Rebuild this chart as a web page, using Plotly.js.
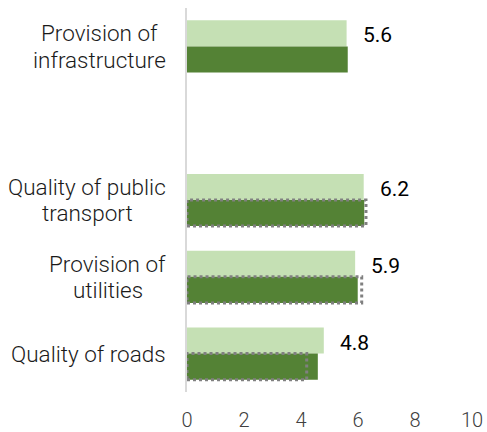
<!DOCTYPE html>
<html>
<head>
<meta charset="utf-8">
<script src="https://cdn.plot.ly/plotly-3.0.1.min.js"></script>
<style>
  html, body { margin: 0; padding: 0; background: #ffffff; }
  #chart { width: 487px; height: 432px; }
</style>
</head>
<body>
<div id="chart"></div>
<script>
// ---- data ----
const categories = ["Provision of<br>infrastructure", "Quality of public<br>transport", "Provision of<br>utilities", "Quality of roads"];
const lightValues = [5.6, 6.2, 5.9, 4.8];
const darkValues = [5.64, 6.22, 5.99, 4.59];
const dottedValues = [null, 6.28, 6.13, 4.2];
const valueLabels = ["5.6", "6.2", "5.9", "4.8"];
const xTicks = [0, 2, 4, 6, 8, 10];

// ---- layout structure: slot index per category (a blank slot after the first) ----
const slots = [4, 2, 1, 0];
const barH = 0.34;
const lineGap = 26.5;

const traces = [
  {
    type: "bar", orientation: "h",
    x: lightValues, y: slots,
    width: barH, offset: 0,
    marker: { color: "#c5e0b4" },
    hoverinfo: "skip", showlegend: false
  },
  {
    type: "bar", orientation: "h",
    x: darkValues, y: slots,
    width: barH, offset: -barH,
    marker: { color: "#548235" },
    hoverinfo: "skip", showlegend: false
  }
];

// dotted outline boxes drawn as closed lines through the axes
dottedValues.forEach((v, i) => {
  if (v === null) return;
  const c = slots[i];
  traces.push({
    type: "scatter", mode: "lines",
    x: [0, v, v, 0, 0],
    y: [c - barH, c - barH, c, c, c - barH],
    line: { color: "#808080", width: 3, dash: "dot" },
    hoverinfo: "skip", showlegend: false, cliponaxis: false
  });
});

const annotations = [];
categories.forEach((cat, i) => {
  const lines = cat.split("<br>");
  lines.forEach((ln, k) => {
    annotations.push({
      xref: "paper", yref: "y", x: 0, y: slots[i],
      xanchor: "center", yanchor: "middle",
      xshift: 0, yshift: ((lines.length - 1) / 2 - k) * lineGap,
      showarrow: false,
      text: ln,
      font: { family: "Roboto", size: 22.5, color: "#1a1a1a", weight: 300 },
      _lineGroup: i
    });
  });
  annotations.push({
    xref: "x", yref: "y", x: lightValues[i], y: slots[i] + barH / 2,
    xanchor: "left", yanchor: "middle",
    xshift: 14, yshift: -2, showarrow: false,
    text: valueLabels[i],
    font: { family: "Roboto", size: 21, color: "#000000" }
  });
});

// centre each multi-line label block, right edge 21px left of the axis
const rightEdge = 166;
function measure(text, font) {
  const c = document.createElement("canvas").getContext("2d");
  c.font = `${font.weight || 400} ${font.size}px ${font.family}`;
  return c.measureText(text).width;
}

function build() {
  const ann = annotations.map(a => Object.assign({}, a));
  const groupW = {};
  ann.forEach(a => {
    if (a._lineGroup === undefined) return;
    const w = measure(a.text, a.font);
    groupW[a._lineGroup] = Math.max(groupW[a._lineGroup] || 0, w);
  });
  const plotLeft = 187;
  ann.forEach(a => {
    if (a._lineGroup === undefined) return;
    const center = rightEdge - groupW[a._lineGroup] / 2;
    a.xshift = center - plotLeft;
    delete a._lineGroup;
  });

  const layout = {
    width: 487, height: 432,
    margin: { l: 187, r: 15, t: 8, b: 40, pad: 0 },
    paper_bgcolor: "#ffffff", plot_bgcolor: "#ffffff",
    barmode: "overlay",
    showlegend: false,
    xaxis: {
      range: [0, 10], tickvals: xTicks, ticktext: xTicks.map(String),
      showgrid: false, zeroline: false, showline: false, ticks: "",
      ticklabelstandoff: 14,
      tickfont: { family: "Roboto", size: 20, color: "#404040", weight: 300 },
      fixedrange: true
    },
    yaxis: {
      range: [-0.5, 4.5], showticklabels: false, showgrid: false, zeroline: false,
      showline: true, linecolor: "#d9d9d9", linewidth: 2, ticks: "",
      fixedrange: true
    },
    annotations: ann
  };

  Plotly.newPlot("chart", traces, layout, { displayModeBar: false, staticPlot: true });
}

if (document.fonts && document.fonts.load) {
  document.fonts.load("300 22.5px Roboto").then(build, build);
} else {
  build();
}
</script>
</body>
</html>
